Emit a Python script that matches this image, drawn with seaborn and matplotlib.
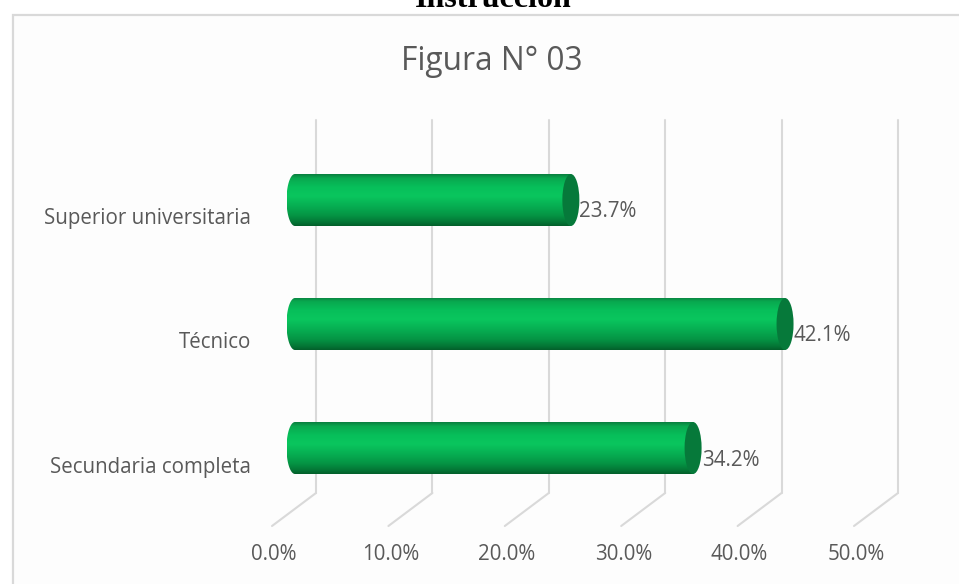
import numpy as np
import matplotlib
matplotlib.use("Agg")
import matplotlib.pyplot as plt
import seaborn as sns
import pandas as pd
from matplotlib import transforms as mtrans
from matplotlib.patches import Rectangle, Ellipse, PathPatch
from matplotlib.path import Path
from matplotlib.colors import LinearSegmentedColormap

# ---- data ----
categories = ["Superior universitaria", "Técnico", "Secundaria completa"]
values = [23.7, 42.1, 34.2]
ticks = [0, 10, 20, 30, 40, 50]
tick_labels = ["0.0%", "10.0%", "20.0%", "30.0%", "40.0%", "50.0%"]
title = "Figura N° 03"
header = "Instrucción"

sns.set_style("white")
plt.rcParams["font.family"] = ["Open Sans", "DejaVu Sans"]

W, H = 959, 584
DPI = 100
fig = plt.figure(figsize=(W / DPI, H / DPI), dpi=DPI)
fig.patch.set_facecolor("white")

TXT = "#595959"
GRID = "#d9d9d9"
FS = 14.8

# chart area frame
fig.patches.append(Rectangle((13 / W, -0.05), 1.0, (H - 15) / H + 0.05,
                             transform=fig.transFigure, facecolor="#fdfdfd",
                             edgecolor=GRID, lw=1.6, zorder=-5))

# cut-off header above the chart
fig.text(493 / W, 1 - 7 / H, header, ha="center", va="baseline",
         family=["Liberation Serif"], fontweight="bold", fontsize=23, color="black")

# title
fig.text(492 / W, 1 - 61 / H, title, ha="center", va="center",
         fontsize=22.8, color=TXT)

# main axes: x=0 -> 295px, x=50 -> 877px ; plot wall from y=120 to 493 px
px_per_unit = 582 / 50
XMIN = -3
left_px = 295 + XMIN * px_per_unit
ax = fig.add_axes([left_px / W, (H - 493) / H, (877 - left_px) / W, 373 / H])
ax.set_zorder(1)
df = pd.DataFrame({"cat": categories, "val": values})
sns.barplot(data=df, x="val", y="cat", orient="h", color="#07b554",
            width=52 / 124, saturation=1, ax=ax, zorder=2)
ax.set_xlim(XMIN, 50)
ax.set_ylim(2 + 45 / 124, -80 / 124)
ax.axis("off")
ax.patch.set_alpha(0)

rx_px = 8.5
rx = rx_px / px_per_unit

# gridlines: back wall vertical lines + floor diagonals
xa = mtrans.blended_transform_factory(ax.transData, ax.transAxes)
for v in ticks:
    back = xa + mtrans.ScaledTranslation(21 / DPI, 0, fig.dpi_scale_trans)
    ax.plot([v, v], [0, 1], transform=back, color=GRID, lw=1.5,
            clip_on=False, zorder=0)
    dx, dy = back.transform((v, 0))
    ax.plot([dx, dx - 44], [dy, dy - 33], transform=mtrans.IdentityTransform(),
            color=GRID, lw=1.5, clip_on=False, zorder=0)

# tick labels on the floor front
for v, lab in zip(ticks, tick_labels):
    tr = xa + mtrans.ScaledTranslation(-21 / DPI, 0, fig.dpi_scale_trans)
    ax.text(v, (584 - 555 - 91) / 373, lab, transform=tr, ha="center",
            va="center", fontsize=FS, color=TXT, clip_on=False)

# cylinder shading
cmap = LinearSegmentedColormap.from_list(
    "cyl",
    [(0.0, "#0a7e3f"), (0.08, "#09a84f"), (0.25, "#07bf5a"), (0.42, "#0ac65e"),
     (0.6, "#07b053"), (0.8, "#059444"), (0.93, "#047535"), (1.0, "#035f2a")])
grad = np.linspace(0, 1, 256).reshape(-1, 1)

for p in list(ax.patches):
    x0, y, w, h = p.get_x(), p.get_y(), p.get_width(), p.get_height()
    yc = y + h / 2
    p.set_facecolor("none")
    p.set_edgecolor("none")
    t = np.linspace(0, np.pi, 60)
    verts = [(x0, y), (x0 + w, y), (x0 + w, y + h)]
    verts += list(zip(x0 - rx * np.sin(t), yc + (h / 2) * np.cos(t)))
    verts.append((x0, y))
    codes = [Path.MOVETO] + [Path.LINETO] * (len(verts) - 2) + [Path.CLOSEPOLY]
    clip = PathPatch(Path(verts, codes), transform=ax.transData,
                     facecolor="none", edgecolor="none")
    ax.add_patch(clip)
    im = ax.imshow(grad, cmap=cmap, aspect="auto", origin="upper",
                   extent=(x0 - rx, x0 + w, y + h, y), zorder=2,
                   interpolation="bilinear")
    im.set_clip_path(clip)
    ax.add_patch(Ellipse((x0 + w, yc), 2 * rx, h, facecolor="#06793a",
                         edgecolor="none", zorder=3))
    ax.text(x0 + w, yc, f"{w:.1f}%",
            transform=ax.transData + mtrans.ScaledTranslation(rx_px / DPI, -12 / DPI, fig.dpi_scale_trans),
            ha="left", va="center", fontsize=FS, color=TXT, zorder=4)

ax.set_xlim(XMIN, 50)
ax.set_ylim(2 + 45 / 124, -80 / 124)

# category labels
ytr = ax.get_yaxis_transform() + mtrans.ScaledTranslation(0, -19 / DPI, fig.dpi_scale_trans)
for i, c in enumerate(categories):
    ax.text((251 - left_px) / (877 - left_px), i, c, transform=ytr, ha="right",
            va="center", fontsize=FS, color=TXT)

fig.savefig("out.png", dpi=DPI)
